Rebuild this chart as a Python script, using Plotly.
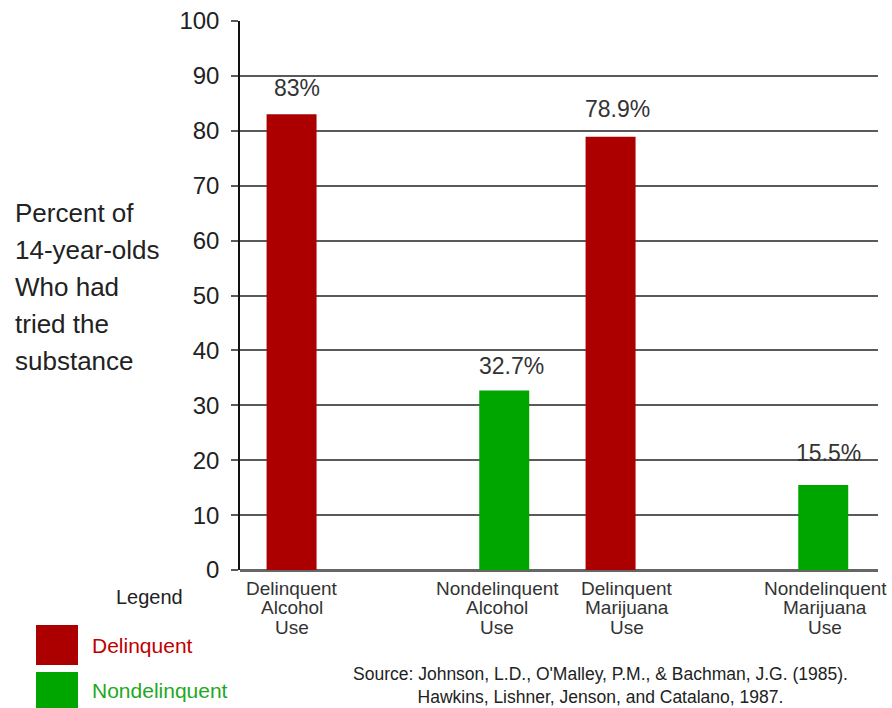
import plotly.graph_objects as go

categories = ["Delinquent Alcohol Use", "Nondelinquent Alcohol Use",
              "Delinquent Marijuana Use", "Nondelinquent Marijuana Use"]
category_lines = [["Delinquent", "Alcohol", "Use"],
                  ["Nondelinquent", "Alcohol", "Use"],
                  ["Delinquent", "Marijuana", "Use"],
                  ["Nondelinquent", "Marijuana", "Use"]]
values = [83.0, 32.7, 78.9, 15.5]
value_labels = ["83%", "32.7%", "78.9%", "15.5%"]
groups = ["Delinquent", "Nondelinquent", "Delinquent", "Nondelinquent"]
slot_order = [categories[0], "gap_a", categories[1], categories[2], "gap_b", categories[3]]
y_ticks = [0, 10, 20, 30, 40, 50, 60, 70, 80, 90, 100]
axis_title_lines = ["Percent of", "14-year-olds", "Who had", "tried the", "substance"]
source_lines = ["Source: Johnson, L.D., O'Malley, P.M., & Bachman, J.G. (1985).",
                "Hawkins, Lishner, Jenson, and Catalano, 1987."]

RED = "#AC0000"
GREEN = "#00A600"
colors = {"Delinquent": RED, "Nondelinquent": GREEN}
text_colors = {"Delinquent": "#C00000", "Nondelinquent": "#1FA81F"}
FONT = "Liberation Sans, Arial, Helvetica, sans-serif"

W, H = 892, 708
L, R, T, B = 240, 14, 21, 138
pw, ph = W - L - R, H - T - B


def px(x):
    return (x - L) / pw


def py(y):
    return (H - B - y) / ph


fig = go.Figure()
fig.add_trace(go.Bar(
    x=categories, y=values,
    marker=dict(color=[colors[g] for g in groups], line=dict(width=0)),
    width=0.47, showlegend=False, hoverinfo="x+y",
))

fig.update_layout(
    width=W, height=H,
    margin=dict(l=L, r=R, t=T, b=B, autoexpand=False),
    paper_bgcolor="white", plot_bgcolor="white",
    font=dict(family=FONT, color="#222"),
    xaxis=dict(type="category", categoryorder="array", categoryarray=slot_order,
               range=[-0.485, 5.515], showticklabels=False, showgrid=False,
               zeroline=False, showline=False, ticks=""),
    yaxis=dict(range=[0, 100], tickvals=y_ticks, showgrid=True,
               gridcolor="#5a5a5a", gridwidth=2,
               zeroline=True, zerolinecolor="#666", zerolinewidth=2.5,
               showline=True, linecolor="#111", linewidth=1.5,
               ticks="outside", ticklen=7, tickcolor="#5a5a5a", tickwidth=2,
               ticklabelstandoff=7,
               tickfont=dict(size=24, color="#222", family=FONT)),
)

# value labels above bars
label_xshift = [5, 7, 7, 5]
label_yshift = [26, 24, 28, 32]
for c, v, t, dx, dy in zip(categories, values, value_labels, label_xshift, label_yshift):
    fig.add_annotation(x=c, y=v, text=t, showarrow=False, xref="x", yref="y",
                       xanchor="center", yanchor="middle",
                       xshift=dx, yshift=dy, font=dict(size=23, color="#333"))

# category labels (one annotation per line for tight spacing)
cat_xshift = [0, -7, 16, 2]
for c, lines, dx in zip(categories, category_lines, cat_xshift):
    for k, line in enumerate(lines):
        fig.add_annotation(x=c, y=0, text=line, showarrow=False, xref="x", yref="y",
                           xanchor="center", yanchor="middle",
                           yshift=-(18 + 19.5 * k), xshift=dx,
                           font=dict(size=19, color="#333"))

# axis title at left
for j, line in enumerate(axis_title_lines):
    fig.add_annotation(x=px(13), y=py(213 + 37 * j), text=line, showarrow=False,
                       xref="paper", yref="paper", xanchor="left", yanchor="middle",
                       font=dict(size=26, color="#222"))

# custom legend
fig.add_annotation(x=px(149), y=py(597), text="Legend", showarrow=False,
                   xref="paper", yref="paper", xanchor="center", yanchor="middle",
                   font=dict(size=20, color="#222"))
legend_items = [("Delinquent", 625, 665, 645), ("Nondelinquent", 672, 715, 690)]
for name, y0, y1, ty in legend_items:
    fig.add_shape(type="rect", xref="paper", yref="paper",
                  x0=px(36), x1=px(78), y0=py(y1), y1=py(y0),
                  fillcolor=colors[name], line=dict(width=0))
    fig.add_annotation(x=px(90), y=py(ty), text=name, showarrow=False,
                       xref="paper", yref="paper", xanchor="left", yanchor="middle",
                       font=dict(size=21, color=text_colors[name]))

# source note (one two-line block, second line centred)
fig.add_annotation(x=px(351), y=py(685), text="<br>".join(source_lines), showarrow=False,
                   xref="paper", yref="paper", xanchor="left", yanchor="middle",
                   align="center", font=dict(size=17.5, color="#222"))

fig.write_html("out.html")
